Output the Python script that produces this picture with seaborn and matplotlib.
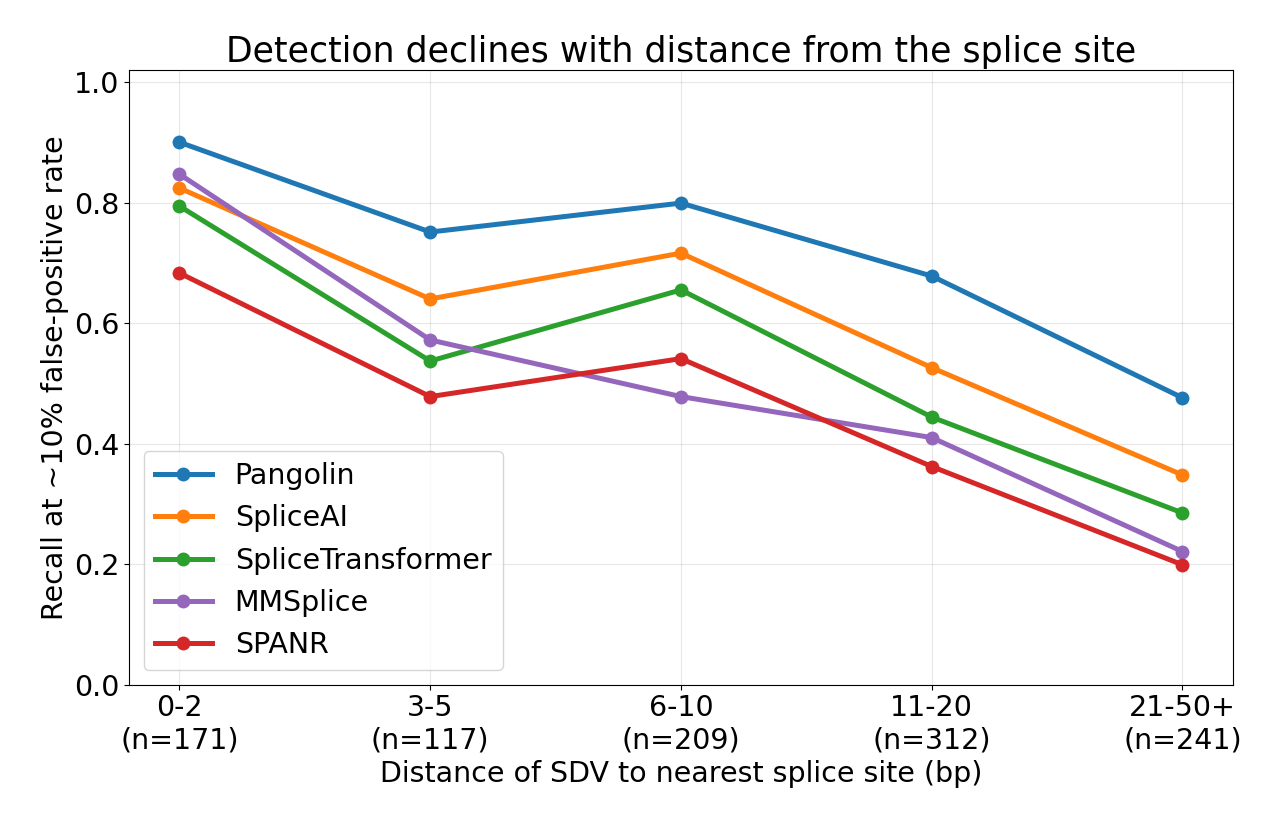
import pandas as pd
import matplotlib
matplotlib.use("Agg")
import matplotlib.pyplot as plt
import seaborn as sns

bins = ["0-2\n(n=171)", "3-5\n(n=117)", "6-10\n(n=209)", "11-20\n(n=312)", "21-50+\n(n=241)"]
pangolin = [0.900, 0.751, 0.799, 0.678, 0.476]
spliceai = [0.824, 0.640, 0.716, 0.526, 0.348]
splicetransformer = [0.794, 0.537, 0.655, 0.444, 0.285]
mmsplice = [0.847, 0.572, 0.478, 0.410, 0.221]
spanr = [0.683, 0.478, 0.541, 0.362, 0.199]

models = {
    "Pangolin": (pangolin, "#1f77b4"),
    "SpliceAI": (spliceai, "#ff7f0e"),
    "SpliceTransformer": (splicetransformer, "#2ca02c"),
    "MMSplice": (mmsplice, "#9467bd"),
    "SPANR": (spanr, "#d62728"),
}

rows = []
for name, (vals, _) in models.items():
    for i, v in enumerate(vals):
        rows.append({"model": name, "pos": i, "recall": v})
df = pd.DataFrame(rows)

fig, ax = plt.subplots(figsize=(12.8, 8.32), dpi=100)
sns.lineplot(data=df, x="pos", y="recall", hue="model",
             palette={k: c for k, (_, c) in models.items()},
             marker="o", markersize=10, markeredgewidth=0, linewidth=3.6, ax=ax)

ax.set_xticks(range(len(bins)))
ax.set_xticklabels(bins, fontsize=20.5)
ax.tick_params(axis="y", labelsize=20.5)
ax.set_xlim(-0.2, 4.2)
ax.set_ylim(0, 1.02)
ax.grid(True, alpha=0.3)
ax.set_xlabel("Distance of SDV to nearest splice site (bp)", fontsize=20.5)
ax.set_ylabel("Recall at ~10% false-positive rate", fontsize=20.5)
ax.set_title("Detection declines with distance from the splice site", fontsize=25)
ax.legend(title=None, fontsize=20.5, loc="lower left")

plt.subplots_adjust(left=0.101, right=0.963, top=0.916, bottom=0.177)
plt.savefig("out.png", dpi=100)
